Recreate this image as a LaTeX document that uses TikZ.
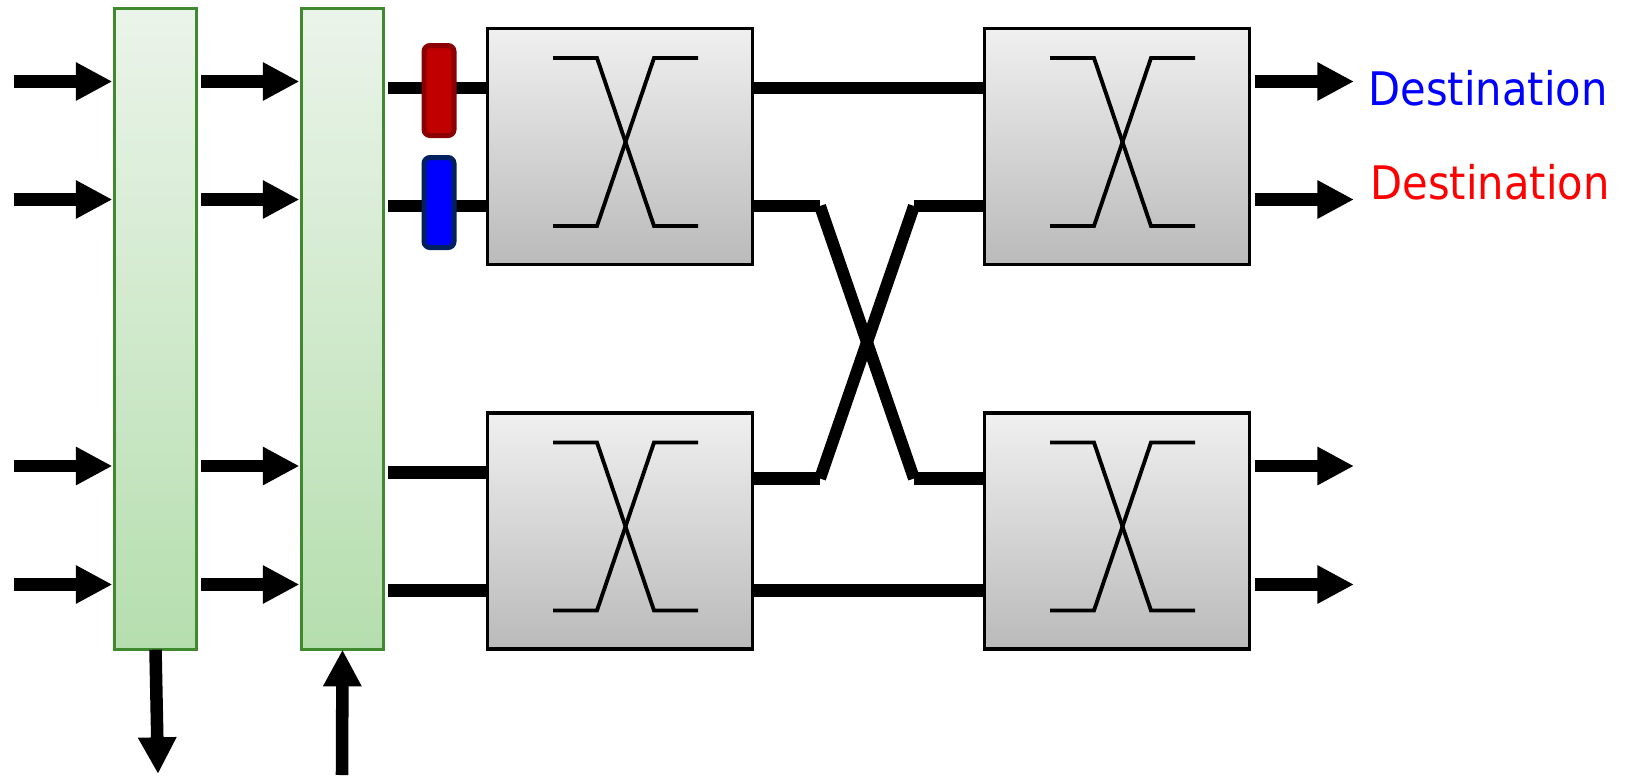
\documentclass[tikz,border=0pt]{standalone}
\usepackage{fontspec}
\setmainfont[FakeStretch=0.9]{DejaVu Sans}
\usetikzlibrary{arrows.meta}
\definecolor{gbord}{HTML}{40892F}
\definecolor{gtop}{HTML}{EBF4EA}
\definecolor{gbot}{HTML}{B5DEAE}
\definecolor{dred}{HTML}{8B0000}
\definecolor{mred}{HTML}{C00000}
\definecolor{dblue}{HTML}{002060}
\tikzset{
  greenbar/.style={rectangle,draw=gbord,line width=1.9pt,top color=gtop,bottom color=gbot,inner sep=0pt,outer sep=0pt,minimum width=61.6pt,minimum height=481pt},
  switchbox/.style={rectangle,draw=black,line width=2.4pt,top color=black!6,bottom color=black!27,inner sep=0pt,outer sep=0pt,minimum width=198.75pt,minimum height=177pt},
  pill/.style={rectangle,rounded corners=4.5pt,line width=3.75pt,inner sep=0pt,outer sep=0pt,minimum width=22.5pt,minimum height=67.5pt},
  bigarrow/.style={line width=9.4pt,-{Triangle[length=27.5pt,width=27pt]}},
  wire/.style={line width=9.4pt},
  crosswire/.style={line width=9pt},
  xline/.style={line width=2.9pt,line join=miter},
  dest/.style={anchor=base,font=\fontsize{34.7pt}{40pt}\selectfont,inner sep=0pt}
}
\begin{document}
\begin{tikzpicture}[x=0.75pt,y=-0.75pt]
\useasboundingbox (0,0) rectangle (1629,779);
% bars
\node[greenbar] (g1) at (155.5,329) {};
\node[greenbar] (g2) at (342.5,329) {};
% switches
\node[switchbox] (s1) at (620,146.5) {};
\node[switchbox] (s2) at (620,531) {};
\node[switchbox] (s3) at (1117,146.5) {};
\node[switchbox] (s4) at (1117,531) {};
% X marks
\foreach \b in {s1,s2,s3,s4}{
  \draw[xline,shift={(\b.center)}] (-67,-88.5) -- (-23,-88.5) -- (34,79.5) -- (78,79.5);
  \draw[xline,shift={(\b.center)}] (-67,79.5) -- (-23,79.5) -- (34,-88.5) -- (78,-88.5);
}
% free ends
\foreach \n/\y in {1/81.5,2/199.5,3/466,4/584.5}{
  \coordinate (ina\n) at (14,\y);
  \coordinate (inb\n) at (201,\y);
  \coordinate (out\n) at (1255,\y);
  \coordinate (dst\n) at (1354,\y);
  \draw[bigarrow,shorten >=1.5pt] (ina\n) -- (ina\n -| g1.west);
  \draw[bigarrow,shorten >=1.5pt] (inb\n) -- (inb\n -| g2.west);
  \draw[bigarrow] (out\n) -- (dst\n);
}
\foreach \n/\y in {1/88,2/206,3/472.5,4/590.5}{
  \coordinate (w\n) at (388,\y);
}
\draw[wire] (w1) -- (w1 -| s1.west);
\draw[wire] (w2) -- (w2 -| s1.west);
\draw[wire] (w3) -- (w3 -| s2.west);
\draw[wire] (w4) -- (w4 -| s2.west);
% straight links
\draw[wire] (s1.east |- w1) -- (s3.west |- w1);
\draw[wire] (s2.east |- w4) -- (s4.west |- w4);
% crossing links
\coordinate (c1) at (820,206);
\coordinate (c2) at (914,478.5);
\coordinate (c3) at (820,478.5);
\coordinate (c4) at (914,206);
\coordinate (c1s) at (750.5,206);
\coordinate (c3s) at (750.5,478.5);
\draw[wire] (c1s) -- (c1);
\draw[crosswire] (c1) -- (c2);
\draw[wire] (c2) -- (s4.west |- c2);
\draw[wire] (c3s) -- (c3);
\draw[crosswire] (c3) -- (c4);
\draw[wire] (c4) -- (s3.west |- c4);
% pills
\node[pill,draw=dred,fill=mred] (p1) at (439,90.5) {};
\node[pill,draw=dblue,fill=blue] (p2) at (439,202.5) {};
% bottom arrows
\coordinate (d1) at (158,774);
\coordinate (u1) at (342,775);
\draw[bigarrow] (g1.south) -- (d1);
\draw[bigarrow] (u1) -- (g2.south);
% labels
\node[dest,text=blue] (t1) at (1488,105) {Destination};
\node[dest,text=red] (t2) at (1490,199) {Destination};
\end{tikzpicture}
\end{document}
